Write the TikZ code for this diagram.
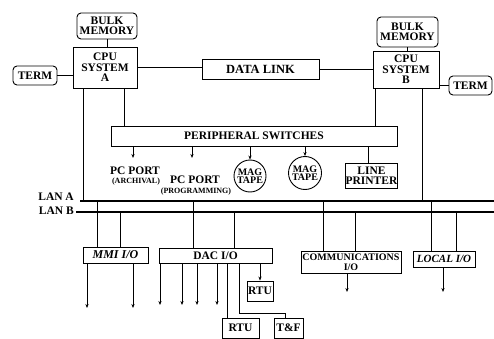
\documentclass[tikz,border=0pt]{standalone}
\usepackage{fontspec}
\setmainfont{Liberation Serif}
\usetikzlibrary{arrows.meta,shapes.geometric}
\begin{document}
\begin{tikzpicture}[x=1pt,y=-1pt,
  box/.style={draw,line width=0.9pt,inner sep=0pt,align=center,font=\fontsize{11.5}{10.5}\selectfont\bfseries},
  rbox/.style={box,rounded corners=4pt},
  lbl/.style={inner sep=0pt,align=center,font=\fontsize{11.5}{10.5}\selectfont\bfseries},
  sub/.style={inner sep=0pt,font=\fontsize{8}{8}\selectfont\bfseries},
  conn/.style={line width=0.8pt},
  arr/.style={conn,-{Stealth[length=4pt,width=3.2pt]}},
  lan/.style={line width=1.7pt}]
\useasboundingbox (0,0) rectangle (494,339);

% upper systems
\node[rbox,minimum width=60pt,minimum height=26pt] (bulkA) at (107,26) {BULK\\MEMORY};
\node[box,minimum width=64pt,minimum height=41pt] (cpuA) at (105,67.5) {CPU\\SYSTEM\\A};
\node[rbox,minimum width=44pt,minimum height=19pt] (termA) at (35,75.5) {TERM};
\node[box,minimum width=117pt,minimum height=20pt,font=\fontsize{12.5}{10}\selectfont\bfseries] (link) at (260.5,69) {DATA LINK};
\node[box,minimum width=66pt,minimum height=37pt] (cpuB) at (406,69.5) {CPU\\SYSTEM\\B};
\node[rbox,minimum width=61pt,minimum height=30pt] (bulkB) at (407.5,32) {BULK\\MEMORY};
\node[rbox,minimum width=43pt,minimum height=19pt] (termB) at (470.5,85.5) {TERM};

% peripherals
\node[box,minimum width=286pt,minimum height=20pt] (periph) at (254,136) {PERIPHERAL SWITCHES};
\node[box,circle,minimum size=32pt,font=\fontsize{10}{8.5}\selectfont\bfseries] (magA) at (250,176) {MAG\\TAPE};
\node[box,circle,minimum size=33pt,font=\fontsize{10}{8.5}\selectfont\bfseries] (magB) at (305,173) {MAG\\TAPE};
\node[box,minimum width=51pt,minimum height=25pt] (printer) at (371.5,175.5) {LINE\\PRINTER};
\node[lbl] (pcA) at (135,171) {PC PORT};
\node[sub] (pcAs) at (136,182) {(ARCHIVAL)};
\node[lbl] (pcB) at (195,180) {PC PORT};
\node[sub] (pcBs) at (196,192) {(PROGRAMMING)};

% LAN labels
\node[lbl,anchor=east] (lanAlbl) at (74,197) {LAN A};
\node[lbl,anchor=east] (lanBlbl) at (74,211) {LAN B};

% I/O boxes
\node[box,minimum width=65pt,minimum height=16pt,font=\fontsize{12}{10}\selectfont\bfseries\itshape] (mmi) at (115.5,255) {MMI I/O};
\node[box,minimum width=113pt,minimum height=15pt] (dac) at (215.5,255.5) {DAC I/O};
\node[box,minimum width=100pt,minimum height=22pt,font=\fontsize{10}{10}\selectfont\bfseries] (comm) at (351,262) {COMMUNICATIONS\\I/O};
\node[box,minimum width=62pt,minimum height=16pt,font=\fontsize{11}{10}\selectfont\bfseries\itshape] (local) at (444,259) {LOCAL I/O};
\node[box,minimum width=26pt,minimum height=20pt] (rtuA) at (260,291) {RTU};
\node[box,minimum width=37pt,minimum height=20pt] (rtuB) at (240.5,328) {RTU};
\node[box,minimum width=29pt,minimum height=20pt] (tf) at (288.5,328) {T\&F};

% top connections
\draw[conn] (bulkA.south) -- (bulkA.south |- cpuA.north);
\draw[conn] (termA.east) -- (termA.east -| cpuA.west);
\draw[conn] (cpuA.east) -- (cpuA.east -| link.west);
\draw[conn] (link.east) -- (link.east -| cpuB.west);
\draw[conn] (bulkB.south) -- (bulkB.south |- cpuB.north);
\draw[conn] (termB.west -| cpuB.east) -- (termB.west);

% LAN lines
\coordinate (lanAL) at (80,201); \coordinate (lanAR) at (494,201);
\coordinate (lanBL) at (76,212); \coordinate (lanBR) at (494,212);
\draw[lan] (lanAL) -- (lanAR);
\draw[lan] (lanBL) -- (lanBR);

% taps
\coordinate (tA1) at (83,201);
\coordinate (tA2) at (422,201);
\coordinate (tA3) at (97,201);
\coordinate (tA4) at (193,201);
\coordinate (tA5) at (323,201);
\coordinate (tA6) at (431,201);
\coordinate (tB1) at (120,212);
\coordinate (tB2) at (234,212);
\coordinate (tB3) at (355,212);
\coordinate (tB4) at (456,212);
\draw[conn] (tA1 |- cpuA.south) -- (tA1);
\draw[conn] (tA2 |- cpuB.south) -- (tA2);
\draw[conn] (tA3) -- (tA3 |- mmi.north);
\draw[conn] (tB1) -- (tB1 |- mmi.north);
\draw[conn] (tA4) -- (tA4 |- dac.north);
\draw[conn] (tB2) -- (tB2 |- dac.north);
\draw[conn] (tA5) -- (tA5 |- comm.north);
\draw[conn] (tB3) -- (tB3 |- comm.north);
\draw[conn] (tA6) -- (tA6 |- local.north);
\draw[conn] (tB4) -- (tB4 |- local.north);

% peripheral switch feeds
\coordinate (pA) at (124,126);
\coordinate (pB) at (375,126);
\draw[conn] (pA |- cpuA.south) -- (pA |- periph.north);
\draw[conn] (pB |- cpuB.south) -- (pB |- periph.north);
\coordinate (pcAtip) at (133,158);
\coordinate (pcBtip) at (192,158);
\draw[arr] (pcAtip |- periph.south) -- (pcAtip);
\draw[arr] (pcBtip |- periph.south) -- (pcBtip);
\draw[arr] (magA.north |- periph.south) -- (magA.north);
\draw[arr] (magB.north |- periph.south) -- (magB.north);
\coordinate (prtx) at (368,0);
\draw[conn] (prtx |- periph.south) -- (prtx |- printer.north);

% outputs
\coordinate (m1) at (87,308);
\coordinate (m2) at (133,308);
\draw[arr] (m1 |- mmi.south) -- (m1);
\draw[arr] (m2 |- mmi.south) -- (m2);
\coordinate (d1) at (160,305);
\coordinate (d2) at (182,305);
\coordinate (d3) at (197,305);
\coordinate (d4) at (217,305);
\draw[arr] (d1 |- dac.south) -- (d1);
\draw[arr] (d2 |- dac.south) -- (d2);
\draw[arr] (d3 |- dac.south) -- (d3);
\draw[arr] (d4 |- dac.south) -- (d4);
\coordinate (r2x) at (227,0);
\draw[conn] (r2x |- dac.south) -- (r2x |- rtuB.north);
\draw[arr] (rtuA.north |- dac.south) -- (rtuA.north);
\coordinate (tfx) at (239,0);
\coordinate (tfbend) at (285,313);
\draw[conn] (tfx |- dac.south) |- (tfbend) -- (tfbend |- tf.north);
\coordinate (c1) at (347,292);
\draw[arr] (c1 |- comm.south) -- (c1);
\coordinate (l1) at (443,292);
\draw[arr] (l1 |- local.south) -- (l1);
\end{tikzpicture}
\end{document}
